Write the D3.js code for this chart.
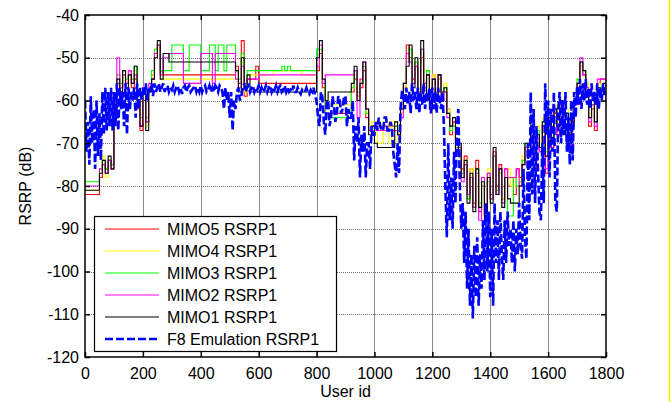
<!DOCTYPE html>
<html><head><meta charset="utf-8">
<script src="https://cdn.jsdelivr.net/npm/d3@7"></script>
<style>
body{margin:0;background:#fff}
svg{display:block}
text{font-family:"Liberation Sans",Arial,sans-serif;font-size:16px;fill:#000}
</style>
</head><body>
<svg id="c" width="672" height="402"></svg>
<script>
// ---------------- data ----------------
const xTicks = [0,200,400,600,800,1000,1200,1400,1600,1800];
const yTicks = [-120,-110,-100,-90,-80,-70,-60,-50,-40];
const mimoIds = d3.range(0, 1801, 10);   // user ids of the MIMO samples
const f8Ids = d3.range(0, 1801, 5);      // user ids of the F8 samples

const mimo5 = [
-82,-82,-82,-82,-82,-78,-75,-76,-74,-75,
-62,-56,-57,-54,-56,-53,-57,-55,-62,-67,
-60,-65,-57,-54,-49,-47,-53,-54,-54,-54,
-54,-54,-54,-54,-54,-54,-54,-54,-54,-54,
-54,-54,-54,-54,-54,-54,-54,-54,-54,-54,
-54,-54,-52,-56,-46,-59,-55,-55,-55,-52,
-56,-56,-56,-56,-56,-56,-56,-56,-56,-56,
-56,-56,-56,-56,-56,-56,-56,-56,-56,-56,
-53,-49,-57,-63,-63,-63,-63,-63,-63,-63,
-63,-63,-58,-55,-59,-57,-53,-64,-67,-66,
-67,-66,-66,-66,-66,-66,-66,-66,-69,-63,
-57,-47,-50,-55,-52,-58,-50,-56,-53,-60,
-54,-58,-55,-60,-58,-62,-68,-65,-70,-72,
-76,-73,-82,-76,-84,-74,-86,-80,-87,-77,
-82,-73,-80,-75,-83,-76,-80,-78,-82,-76,
-78,-74,-71,-70,-65,-76,-67,-72,-66,-77,
-62,-71,-63,-68,-62,-66,-64,-71,-66,-61,
-57,-52,-54,-57,-66,-62,-67,-56,-55,-55,
-56];

const mimo4 = [
-81,-81,-81,-81,-81,-77,-73,-78,-74,-76,
-63,-54,-57,-53,-56,-55,-55,-53,-60,-65,
-58,-66,-57,-54,-48,-48,-54,-55,-55,-55,
-55,-55,-55,-55,-55,-55,-55,-55,-55,-55,
-55,-55,-55,-55,-55,-55,-55,-55,-55,-55,
-55,-55,-53,-57,-51,-58,-54,-54,-54,-54,
-54,-54,-54,-54,-54,-53,-53,-53,-53,-53,
-53,-53,-53,-53,-53,-54,-54,-54,-54,-54,
-51,-48,-56,-61,-61,-61,-61,-61,-61,-61,
-61,-61,-57,-54,-59,-55,-52,-63,-66,-65,
-65,-70,-70,-65,-65,-70,-65,-65,-70,-63,
-57,-50,-49,-56,-51,-59,-49,-53,-53,-61,
-54,-59,-55,-59,-56,-62,-67,-65,-71,-71,
-77,-74,-83,-76,-85,-77,-84,-78,-86,-76,
-83,-72,-81,-77,-83,-77,-76,-80,-80,-78,
-79,-73,-71,-71,-64,-75,-66,-70,-64,-72,
-63,-69,-61,-67,-61,-67,-62,-69,-64,-58,
-55,-52,-53,-56,-63,-61,-64,-56,-57,-56,
-56];

const mimo3 = [
-79,-79,-79,-79,-79,-76,-74,-76,-74,-75,
-64,-54,-56,-53,-55,-54,-55,-52,-61,-64,
-57,-64,-57,-53,-48,-47,-53,-53,-53,-53,
-47,-47,-47,-47,-53,-53,-47,-47,-47,-47,
-53,-53,-53,-47,-47,-53,-47,-47,-53,-47,
-47,-47,-53,-55,-49,-57,-53,-53,-53,-53,
-53,-53,-53,-53,-53,-53,-53,-53,-52,-53,
-52,-53,-53,-53,-53,-53,-53,-53,-53,-53,
-48,-48,-56,-64,-64,-64,-64,-64,-64,-64,
-64,-64,-57,-53,-58,-56,-52,-63,-67,-67,
-67,-67,-67,-67,-67,-67,-67,-66,-67,-62,
-56,-51,-48,-56,-51,-60,-48,-57,-53,-61,
-55,-60,-54,-59,-57,-63,-67,-66,-71,-71,
-77,-75,-83,-78,-85,-76,-84,-80,-87,-79,
-83,-73,-81,-77,-84,-78,-87,-87,-78,-80,
-79,-74,-70,-71,-65,-74,-67,-71,-65,-72,
-63,-70,-62,-66,-61,-67,-63,-70,-64,-60,
-55,-51,-53,-58,-64,-61,-65,-58,-57,-57,
-57];

const mimo2 = [
-80,-80,-80,-80,-80,-76,-75,-77,-74,-76,
-62,-50,-57,-54,-56,-53,-56,-54,-60,-66,
-57,-65,-56,-55,-49,-47,-54,-50,-50,-49,
-49,-49,-49,-49,-56,-56,-56,-56,-56,-56,
-49,-49,-49,-49,-56,-49,-49,-49,-49,-49,
-49,-49,-55,-57,-52,-56,-55,-55,-55,-55,
-54,-54,-54,-54,-54,-54,-54,-54,-54,-54,
-54,-54,-54,-54,-54,-54,-54,-54,-54,-54,
-52,-47,-56,-54,-54,-54,-54,-54,-54,-54,
-54,-54,-54,-53,-64,-55,-51,-62,-67,-67,
-67,-67,-67,-67,-67,-67,-67,-67,-68,-64,
-56,-49,-51,-56,-52,-58,-48,-57,-54,-62,
-55,-59,-54,-60,-58,-64,-66,-65,-73,-71,
-79,-75,-82,-78,-85,-77,-88,-78,-86,-77,
-83,-72,-82,-76,-84,-76,-78,-78,-78,-76,
-80,-75,-71,-73,-66,-73,-69,-72,-66,-76,
-63,-71,-62,-68,-61,-67,-64,-72,-65,-61,
-56,-50,-54,-57,-65,-61,-66,-55,-55,-55,
-60];

const mimo1 = [
-81,-81,-81,-81,-81,-77,-74,-77,-73,-76,
-64,-55,-58,-53,-57,-54,-56,-52,-60,-66,
-58,-67,-58,-55,-50,-46,-55,-49,-49,-51,
-51,-51,-51,-51,-51,-51,-51,-51,-51,-51,
-51,-51,-51,-51,-51,-51,-51,-51,-51,-51,
-51,-51,-53,-58,-50,-57,-54,-58,-58,-58,
-58,-58,-58,-58,-58,-58,-58,-58,-58,-58,
-58,-58,-58,-58,-58,-58,-58,-58,-58,-58,
-50,-46,-55,-60,-58,-58,-58,-58,-58,-58,
-58,-58,-56,-52,-60,-56,-51,-62,-68,-66,
-70,-71,-71,-71,-71,-71,-71,-65,-68,-62,
-56,-52,-47,-57,-50,-60,-46,-60,-54,-62,
-55,-60,-54,-58,-57,-63,-66,-64,-72,-70,
-78,-74,-84,-77,-86,-76,-85,-79,-88,-78,
-84,-71,-82,-76,-85,-78,-83,-84,-84,-84,
-80,-75,-70,-72,-66,-74,-68,-71,-65,-73,
-64,-70,-62,-66,-60,-68,-63,-70,-65,-60,
-56,-51,-53,-58,-64,-60,-65,-57,-58,-56,
-57];

const f8 = [
-60,-72,-65,-75,-59,-70,-62,-76,-60,-73,-63,-74,-58,-68,-57,-67,-58,-66,-57,-67,
-58,-66,-56,-67,-57,-62,-58,-66,-56,-68,-57,-62,-58,-60,-57,-64,-56,-62,-57,-60,
-57,-59,-56,-60,-57,-58,-56,-59,-56,-58,-57,-56,-58,-57,-56,-58,-57,-56.5,-58,-57,
-57.5,-56.5,-58,-57,-56.5,-58,-57,-58.5,-57,-56.5,-58,-57,-56.5,-58,-57.5,-57,-56.5,-58,-57,-58,
-56.5,-58,-57,-56.5,-58,-57.5,-56.5,-58,-57,-58,-56.5,-57,-58,-56.5,-57,-58,-62,-57,-60,-58,
-64,-58,-67,-60,-62,-58,-57,-60,-59,-57,-56,-58,-57,-56.5,-58,-57,-56.5,-58,-57,-57.5,
-56.5,-58,-57,-58,-57.5,-56.5,-58,-57,-56.5,-58,-57,-57.5,-56.5,-58,-57,-56.5,-58,-57.5,-56.5,-58,
-57,-58,-57.5,-58,-56.5,-58,-58,-57,-58,-58.5,-57.5,-58,-58,-57,-58,-58.5,-57.5,-58,-57,-59,
-60,-64,-66,-58,-59,-65,-68,-60,-60,-66,-64,-59,-61,-65,-63,-59,-60,-63,-62,-59,
-59,-66,-62,-64,-64,-60,-74,-66,-70,-64,-78,-68,-72,-66,-78,-70,-70,-76,-66,-68,
-68,-65,-67,-64,-66,-67,-67,-64,-64,-67,-67,-65,-66,-72,-75,-78,-70,-77,-62,-58,
-58,-62,-57,-61,-58,-63,-56,-60,-58,-62,-57,-63,-58,-61,-56,-62,-58,-60,-57,-63,
-57,-62,-58,-63,-57,-60,-62,-58,-66,-80,-92,-70,-88,-78,-90,-72,-84,-66,-62,-80,
-90,-84,-98,-86,-104,-90,-108,-96,-111,-94,-106,-92,-108,-96,-104,-88,-102,-84,-100,-86,
-106,-90,-108,-84,-98,-88,-102,-86,-96,-102,-88,-98,-86,-94,-90,-98,-88,-100,-90,-96,
-84,-94,-97,-76,-92,-97,-70,-88,-58,-82,-62,-84,-66,-76,-86,-88,-70,-84,-56,-68,
-60,-78,-62,-72,-58,-84,-86,-62,-58,-70,-60,-68,-58,-72,-64,-75,-60,-74,-58,-64,
-57,-61,-55,-62,-56,-60,-55,-61,-57,-62,-56,-60,-58,-61,-56,-62,-57,-60,-56,-59,
-58];

const seriesNames = ["MIMO5 RSRP1","MIMO4 RSRP1","MIMO3 RSRP1","MIMO2 RSRP1","MIMO1 RSRP1","F8 Emulation RSRP1"];
const seriesValues = [mimo5, mimo4, mimo3, mimo2, mimo1, f8];
const seriesIds = [mimoIds, mimoIds, mimoIds, mimoIds, mimoIds, f8Ids];
const seriesColors = ["#ff0000","#ffff00","#00ff00","#ff00ff","#000000","#0000ff"];

// ---------------- chart ----------------
const W = 672, H = 402;
const m = {left:85, top:15, right:606, bottom:357};
const svg = d3.select("#c");
const x = d3.scaleLinear().domain([0,1800]).range([m.left, m.right]);
const y = d3.scaleLinear().domain([-120,-40]).range([m.bottom, m.top]);
const fmt = d => String(d);

svg.append("rect").attr("x",0).attr("y",0).attr("width",W).attr("height",H).attr("fill","#fff");
svg.append("line").attr("x1",669.5).attr("x2",669.5).attr("y1",0).attr("y2",H)
   .attr("stroke","#f2f200").attr("stroke-width",1.5);

svg.append("defs").append("clipPath").attr("id","clip").append("rect")
   .attr("x",m.left).attr("y",m.top).attr("width",m.right-m.left).attr("height",m.bottom-m.top);

// grid
const g = svg.append("g");
g.selectAll(".vg").data(xTicks.slice(1,-1)).join("line")
  .attr("x1",d=>Math.round(x(d))+0.5).attr("x2",d=>Math.round(x(d))+0.5)
  .attr("y1",m.top).attr("y2",m.bottom)
  .attr("stroke","#8c8c8c").attr("stroke-width",1);
g.selectAll(".hg").data(yTicks.slice(1,-1)).join("line")
  .attr("y1",d=>Math.round(y(d))+0.5).attr("y2",d=>Math.round(y(d))+0.5)
  .attr("x1",m.left).attr("x2",m.right)
  .attr("stroke","#6e6e6e").attr("stroke-width",1).attr("stroke-dasharray","1,1");

// series
const plot = svg.append("g").attr("clip-path","url(#clip)");
seriesValues.forEach((vals,i)=>{
  const isF8 = i===5;
  const ids = seriesIds[i];
  const line = d3.line()
    .x((d,j)=>x(ids[j]))
    .y(d=>y(d))
    .curve(isF8 ? d3.curveLinear : d3.curveStepAfter);
  plot.append("path").datum(vals)
    .attr("d",line)
    .attr("fill","none")
    .attr("stroke",seriesColors[i])
    .attr("stroke-width", isF8 ? 2.6 : 1.1)
    .attr("stroke-dasharray", isF8 ? "8,3" : null)
    .attr("stroke-linejoin","miter");
});

// axes box + ticks
const ax = svg.append("g");
const gx = ax.append("g").attr("transform",`translate(0,${m.bottom})`)
  .call(d3.axisBottom(x).tickValues(xTicks).tickFormat(fmt).tickSizeInner(-5).tickSizeOuter(0).tickPadding(11));
const gy = ax.append("g").attr("transform",`translate(${m.left},0)`)
  .call(d3.axisLeft(y).tickValues(yTicks).tickFormat(fmt).tickSizeInner(-5).tickSizeOuter(0).tickPadding(6));
const gxt = ax.append("g").attr("transform",`translate(0,${m.top})`)
  .call(d3.axisTop(x).tickValues(xTicks).tickSizeInner(-5).tickSizeOuter(0).tickFormat(""));
const gyr = ax.append("g").attr("transform",`translate(${m.right},0)`)
  .call(d3.axisRight(y).tickValues(yTicks).tickSizeInner(-5).tickSizeOuter(0).tickFormat(""));
[gx,gy,gxt,gyr].forEach(s=>{
  s.select(".domain").remove();
  s.selectAll(".tick line").attr("stroke","#000").attr("stroke-width",1.5);
  s.selectAll(".tick text").attr("font-size",16).attr("font-family","Liberation Sans, Arial, sans-serif").attr("fill","#000");
});
ax.append("rect").attr("x",m.left).attr("y",m.top).attr("width",m.right-m.left).attr("height",m.bottom-m.top)
  .attr("fill","none").attr("stroke","#000").attr("stroke-width",1.5);

// axis titles
svg.append("text").attr("x",(m.left+m.right)/2).attr("y",397).attr("text-anchor","middle").text("User id");
svg.append("text").attr("transform",`translate(31,${(m.top+m.bottom)/2}) rotate(-90)`).attr("text-anchor","middle").text("RSRP (dB)");

// legend
const lg = svg.append("g");
lg.append("rect").attr("x",94.5).attr("y",216.5).attr("width",242).attr("height",135)
  .attr("fill","#fff").attr("stroke","#000").attr("stroke-width",1.2);
const rowY = [229,251,273,295,317,339];
seriesNames.forEach((n,i)=>{
  const isF8 = i===5;
  lg.append("line").attr("x1",105).attr("x2",159).attr("y1",rowY[i]).attr("y2",rowY[i])
    .attr("stroke",seriesColors[i]).attr("stroke-width",isF8?2.6:1.1)
    .attr("stroke-dasharray",isF8?"8,3":null);
  lg.append("text").attr("x",167).attr("y",rowY[i]+6).text(n);
});
</script>
</body></html>
